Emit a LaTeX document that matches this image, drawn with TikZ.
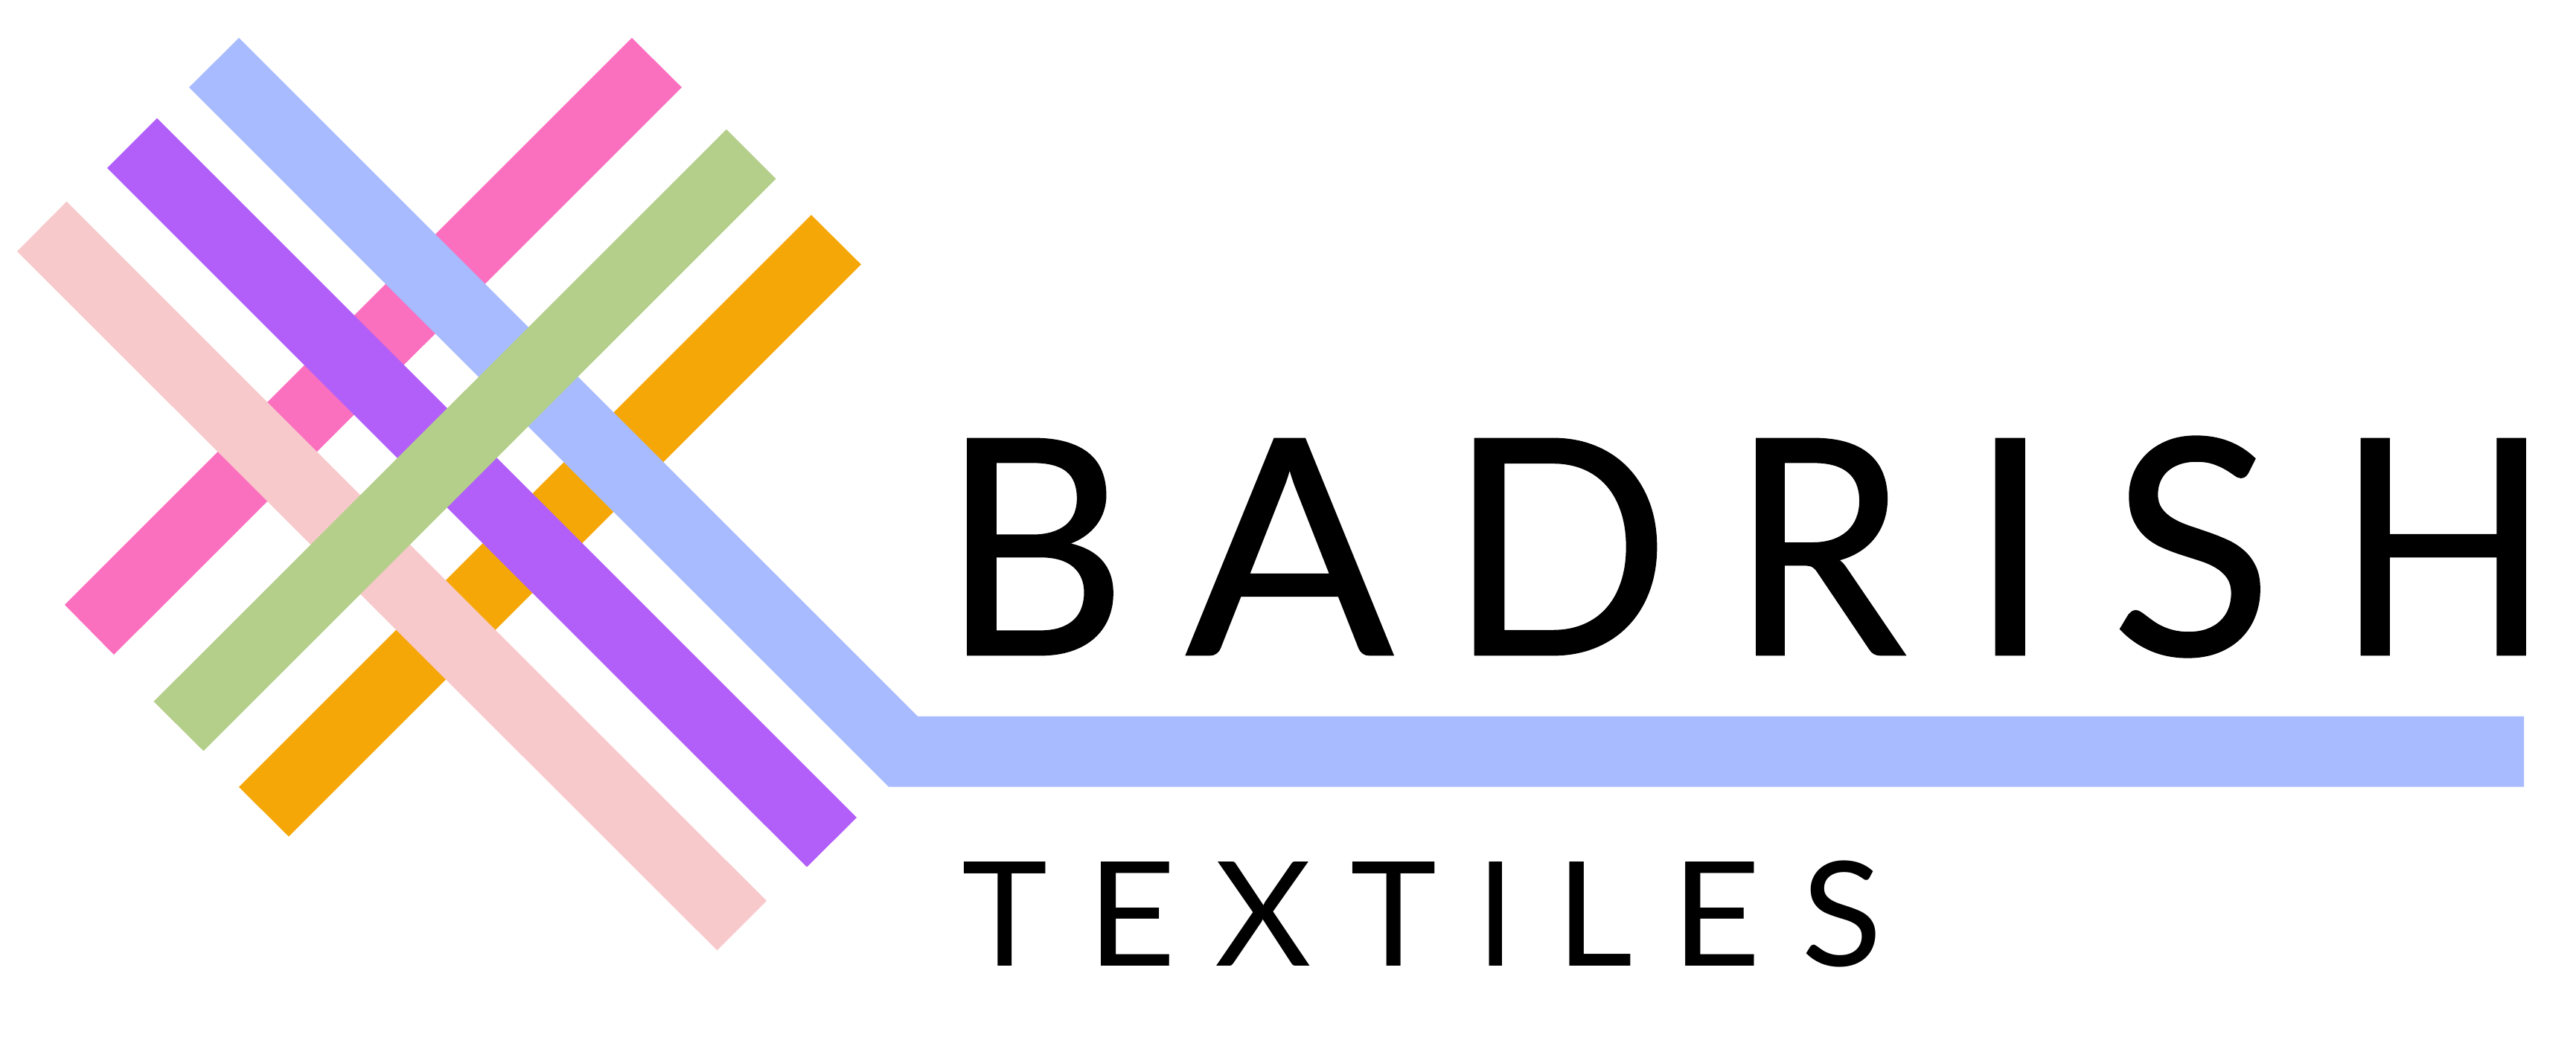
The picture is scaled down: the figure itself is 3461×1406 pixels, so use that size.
\documentclass[tikz,border=0pt]{standalone}
\usepackage{graphicx}
\usepackage{fontspec}
\setmainfont{Lato}
\definecolor{bandblue}{HTML}{A8BBFF}
\definecolor{bandpink}{HTML}{FB6FBF}
\definecolor{bandpurple}{HTML}{B25FFA}
\definecolor{bandrose}{HTML}{F7C9CB}
\definecolor{bandgreen}{HTML}{B4CF8A}
\definecolor{bandorange}{HTML}{F6A708}
\newdimen\curpos
\newdimen\lbear
\newdimen\rbear
\newdimen\inkw
\newdimen\tgt
% one letter of a word: ink runs from px #2 to px #3 of the picture, measured from the word's origin 0
\newcommand\lett[3]{%
  \setbox0\hbox{#1}%
  \lbear=\XeTeXglyphbounds1 \XeTeXcharglyph`#1\relax
  \rbear=\XeTeXglyphbounds3 \XeTeXcharglyph`#1\relax
  \inkw=\dimexpr\wd0-\lbear-\rbear\relax
  \pgfmathsetmacro\lsc{(#3-#2)*0.1/\the\inkw}%
  \tgt=#2pt \tgt=0.1\tgt
  \kern\dimexpr\tgt-\curpos-\lsc\lbear\relax
  \scalebox{\lsc}[1]{#1}%
  \curpos=\dimexpr\tgt-\lsc\lbear+\lsc\wd0\relax
}
% set the font so that the capital height is #1 pt
\newcommand\capfont[1]{%
  \fontsize{10}{12}\selectfont
  \setbox0\hbox{H}%
  \pgfmathsetmacro\fsz{10*#1/\the\ht0}%
  \fontsize{\fsz}{\fsz}\selectfont
}
\tikzset{
  word/.style={anchor=base west,inner sep=0pt,outer sep=0pt,text=black},
}
\begin{document}
\begin{tikzpicture}[x=0.1pt,y=-0.1pt]
\useasboundingbox[fill=white] (0,0) rectangle (3461,1406);
\fill[bandpink] (849,51) -- (916,117.5) -- (153,880) -- (87,813) -- cycle;
\fill[bandorange] (1090,289) -- (1157,355.5) -- (388,1124.5) -- (321,1058) -- cycle;
\fill[bandblue] (321,51) -- (254,117.5) -- (1194,1057.7) -- (3391,1057.7) -- (3391,963) -- (1233,963) -- cycle;
\fill[bandpurple] (211,159) -- (144,226) -- (1084,1165.5) -- (1151,1099) -- cycle;
\fill[bandrose] (89.5,271) -- (23,338) -- (963.5,1277.5) -- (1030,1211) -- cycle;
\fill[bandgreen] (976,174) -- (1042.5,240.5) -- (273.5,1009.5) -- (206.5,943) -- cycle;
\node[word] (badrish) at (0,880) {\capfont{29}\addfontfeature{FakeBold=0.7}\curpos=0pt
  \lett{B}{1300.5}{1494.5}\lett{A}{1594.5}{1871}\lett{D}{1982}{2225}\lett{R}{2360.5}{2559}\lett{I}{2682}{2719.5}\lett{S}{2849.5}{3035.5}\lett{H}{3173}{3392.5}};
\node[word] (textiles) at (0,1298.3) {\capfont{14}\curpos=0pt
  \lett{T}{1295.9}{1405.4}\lett{E}{1479.6}{1571.4}\lett{X}{1635}{1760.5}\lett{T}{1817}{1927.3}\lett{I}{2001.5}{2019}\lett{L}{2109.4}{2191.3}\lett{E}{2264.3}{2356.7}\lett{S}{2427}{2520}};
\end{tikzpicture}
\end{document}
